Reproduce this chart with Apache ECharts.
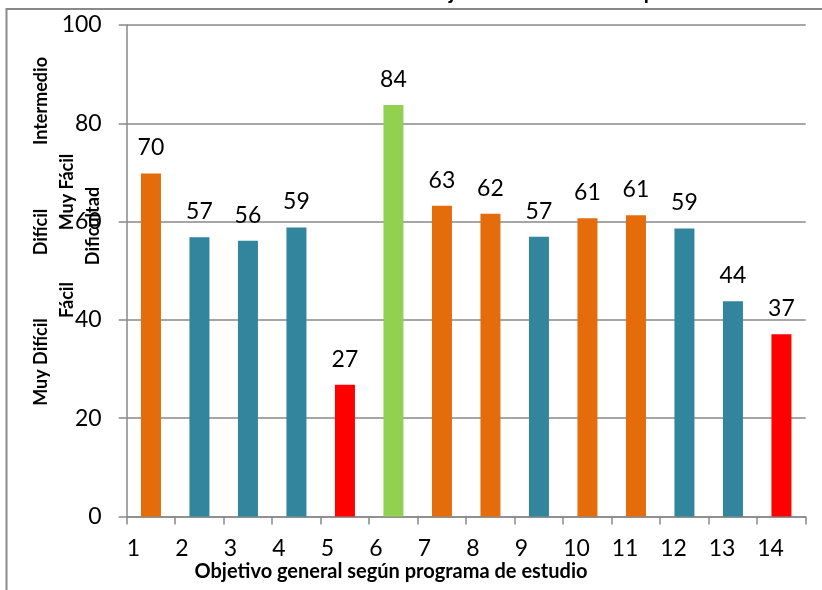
<!DOCTYPE html>
<html>
<head>
<meta charset="utf-8">
<script src="https://cdn.jsdelivr.net/npm/echarts@6/dist/echarts.min.js"></script>
<style>
  html, body { margin: 0; padding: 0; background: #ffffff; }
  #chart { width: 822px; height: 590px; }
</style>
</head>
<body>
<div id="chart"></div>
<script>
// ---- data ----
const categories = ['1', '2', '3', '4', '5', '6', '7', '8', '9', '10', '11', '12', '13', '14'];
const values = [69.8, 56.8, 56.1, 58.8, 26.8, 83.7, 63.2, 61.6, 56.9, 60.7, 61.3, 58.6, 43.8, 37.1];
const levels = ['Intermedio', 'Difícil', 'Difícil', 'Difícil', 'Muy Difícil', 'Fácil', 'Intermedio',
                'Intermedio', 'Difícil', 'Intermedio', 'Intermedio', 'Difícil', 'Difícil', 'Muy Difícil'];
const yTicks = [0, 20, 40, 60, 80, 100];
const titleText = 'Índice de Dificultad del Objetivo evaluado en la prueba';
const xAxisName = 'Objetivo general según programa de estudio';
const yAxisName = 'Dificultad';

// ---- styles ----
const levelColors = {
  'Muy Difícil': '#FF0000',
  'Difícil': '#31859C',
  'Intermedio': '#E46C0A',
  'Fácil': '#92D050',
  'Muy Fácil': '#92D050'
};
const FONT = 'Lato';
const GRAY = '#898989';

// measure title so that its descenders sit where the reference shows them
const cv = document.createElement('canvas').getContext('2d');
cv.font = 'bold 18px ' + FONT;
const w1 = cv.measureText('Índice de Dificultad del Ob').width;
const w2 = cv.measureText('Índice de Dificultad del Objetivo evaluado en la ').width;
const titleSize = 18 * 195 / (w2 - w1);
const titleX = 449 - w1 * titleSize / 18;

const chart = echarts.init(document.getElementById('chart'), null, { renderer: 'canvas' });

const leftLabels = [
  { t: 'Intermedio', x: 41, y: 101 },
  { t: 'Difícil', x: 41, y: 232 },
  { t: 'Muy Difícil', x: 41, y: 362 },
  { t: 'Muy Fácil', x: 67, y: 192 },
  { t: 'Fácil', x: 67, y: 300 },
  { t: yAxisName, x: 93, y: 226 }
];

chart.setOption({
  animation: false,
  backgroundColor: '#ffffff',
  grid: { left: 126.7, right: 16.3, top: 25, bottom: 73.5, containLabel: false },
  xAxis: [
    {
      type: 'category',
      data: categories,
      boundaryGap: true,
      axisLine: { show: true, lineStyle: { color: GRAY, width: 1.5 } },
      axisTick: { show: true, length: 8, interval: 0, lineStyle: { color: GRAY, width: 1.5 } },
      axisLabel: { show: false },
      splitLine: { show: false }
    },
    {
      type: 'category',
      data: categories.concat(['']),
      boundaryGap: false,
      position: 'bottom',
      axisLine: { show: false },
      axisTick: { show: false },
      axisLabel: {
        show: true, interval: 0, align: 'left', margin: 21,
        fontFamily: FONT, fontSize: 23, color: '#000',
        showMinLabel: true, showMaxLabel: true
      },
      splitLine: { show: false }
    }
  ],
  yAxis: {
    type: 'value',
    min: yTicks[0],
    max: yTicks[yTicks.length - 1],
    interval: 20,
    axisLine: { show: true, lineStyle: { color: GRAY, width: 1.5 } },
    axisTick: { show: true, length: 8, lineStyle: { color: GRAY, width: 1.5 } },
    axisLabel: { margin: 25, fontFamily: FONT, fontSize: 23, color: '#000' },
    splitLine: { show: true, lineStyle: { color: GRAY, width: 1.5 } }
  },
  series: [{
    type: 'bar',
    xAxisIndex: 0,
    barWidth: 20,
    data: values.map((v, i) => ({ value: v, itemStyle: { color: levelColors[levels[i]] } })),
    label: {
      show: true,
      position: 'top',
      distance: 14,
      fontFamily: FONT,
      fontSize: 23,
      color: '#000',
      formatter: p => String(Math.round(p.value))
    }
  }],
  graphic: [
    {
      type: 'rect', silent: true, z: 1,
      shape: { x: 6.5, y: 9, width: 900, height: 700 },
      style: { fill: 'none', stroke: GRAY, lineWidth: 2 }
    },
    {
      type: 'text', silent: true, z: 10,
      x: titleX, y: -7.5,
      style: {
        text: titleText, fontFamily: FONT, fontWeight: 'bold', fontSize: titleSize,
        fill: '#000', textAlign: 'left', textVerticalAlign: 'middle'
      }
    },
    {
      type: 'text', silent: true, z: 10,
      x: 391, y: 572,
      style: {
        text: xAxisName, fontFamily: FONT, fontWeight: 'bold', fontSize: 20,
        fill: '#000', textAlign: 'center', textVerticalAlign: 'middle'
      }
    }
  ].concat(leftLabels.map(l => ({
    type: 'text', silent: true, z: 10,
    x: l.x, y: l.y, rotation: Math.PI / 2,
    style: {
      text: l.t, fontFamily: FONT, fontWeight: 'bold', fontSize: 18,
      fill: '#000', textAlign: 'center', textVerticalAlign: 'middle'
    }
  })))
});
</script>
</body>
</html>
